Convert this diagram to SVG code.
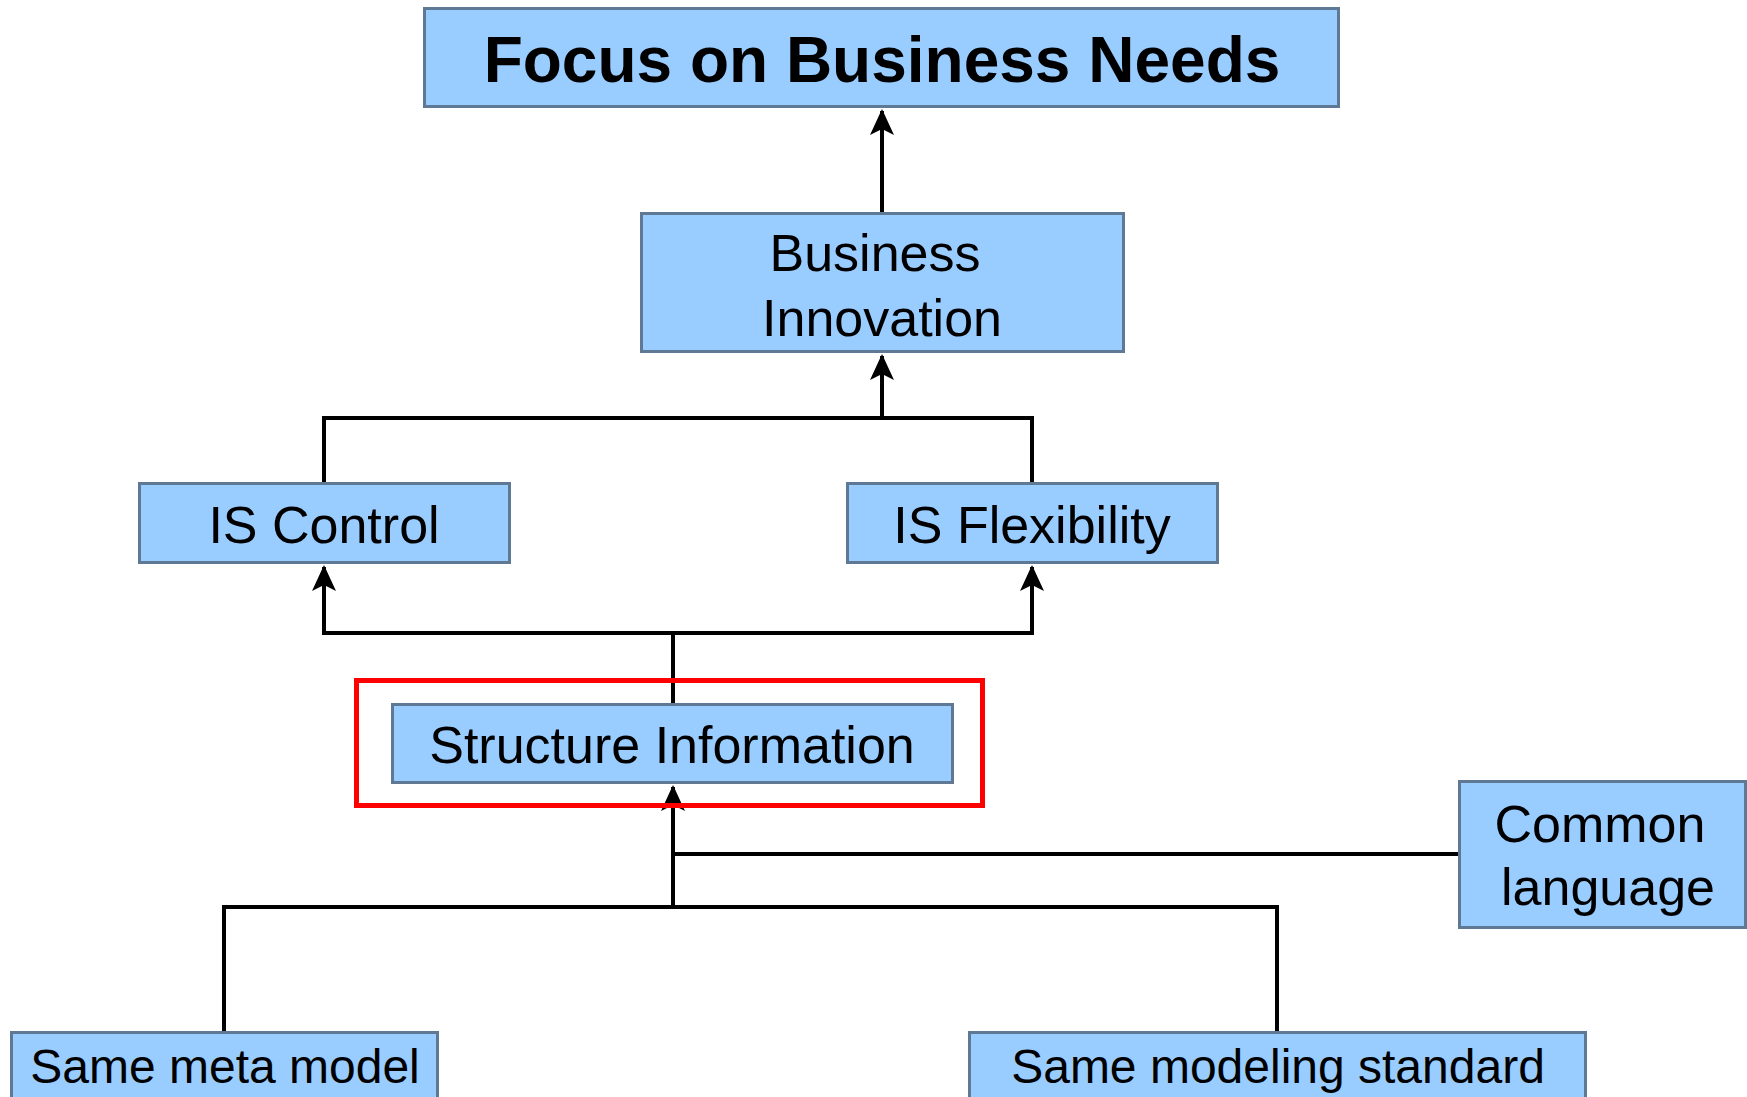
<svg xmlns="http://www.w3.org/2000/svg" width="1747" height="1097" viewBox="0 0 1747 1097">
<style>
.box{fill:#99ccff;stroke:#5f7894;stroke-width:3}
.t{font-family:"Liberation Sans",Arial,sans-serif;font-size:52px;fill:#000;text-anchor:middle}
.s{font-size:48px}
.b{font-weight:bold;font-size:64px}
.c{fill:none;stroke:#000;stroke-width:4}
.ah{fill:#000}
</style>
<rect width="1747" height="1097" fill="#fff"/>
<g id="connectors">
<path class="c" d="M882,213 V111"/>
<path class="c" d="M324,483 V418 H1032 V483"/>
<path class="c" d="M882,418 V356"/>
<path class="c" d="M673,704 V633 H324 V567"/>
<path class="c" d="M673,633 H1032 V567"/>
<path class="c" d="M1459,854 H673"/>
<path class="c" d="M224,1032 V907 H1277 V1032"/>
<path class="c" d="M673,907 V787"/>
<path class="ah" d="M882,109 l-12,26 l12,-6 l12,6 Z"/>
<path class="ah" d="M882,354 l-12,26 l12,-6 l12,6 Z"/>
<path class="ah" d="M324,565 l-12,26 l12,-6 l12,6 Z"/>
<path class="ah" d="M1032,565 l-12,26 l12,-6 l12,6 Z"/>
<path class="ah" d="M673,785 l-12,26 l12,-6 l12,6 Z"/>
</g>
<g id="focus">
<rect class="box" x="424.5" y="8.5" width="914" height="98"/>
<text class="t b" x="882" y="82">Focus on Business Needs</text>
</g>
<g id="business-innovation">
<rect class="box" x="641.5" y="213.5" width="482" height="138"/>
<text class="t" x="875" y="271">Business</text>
<text class="t" x="882" y="336">Innovation</text>
</g>
<g id="is-control">
<rect class="box" x="139.5" y="483.5" width="370" height="79"/>
<text class="t" x="324" y="543">IS Control</text>
</g>
<g id="is-flexibility">
<rect class="box" x="847.5" y="483.5" width="370" height="79"/>
<text class="t" x="1032" y="543">IS Flexibility</text>
</g>
<g id="highlight">
<rect x="356.5" y="680.5" width="626" height="125" fill="none" stroke="#ff0000" stroke-width="5"/>
</g>
<g id="structure-information">
<rect class="box" x="392.5" y="704.5" width="560" height="78"/>
<text class="t" x="672" y="763">Structure Information</text>
</g>
<g id="common-language">
<rect class="box" x="1459.5" y="781.5" width="286" height="146"/>
<text class="t" x="1600" y="842">Common</text>
<text class="t" x="1608" y="905">language</text>
</g>
<g id="same-meta-model">
<rect class="box" x="11.5" y="1032.5" width="426" height="80"/>
<text class="t s" x="225" y="1083">Same meta model</text>
</g>
<g id="same-modeling-standard">
<rect class="box" x="969.5" y="1032.5" width="616" height="80"/>
<text class="t s" x="1278" y="1083">Same modeling standard</text>
</g>
</svg>
